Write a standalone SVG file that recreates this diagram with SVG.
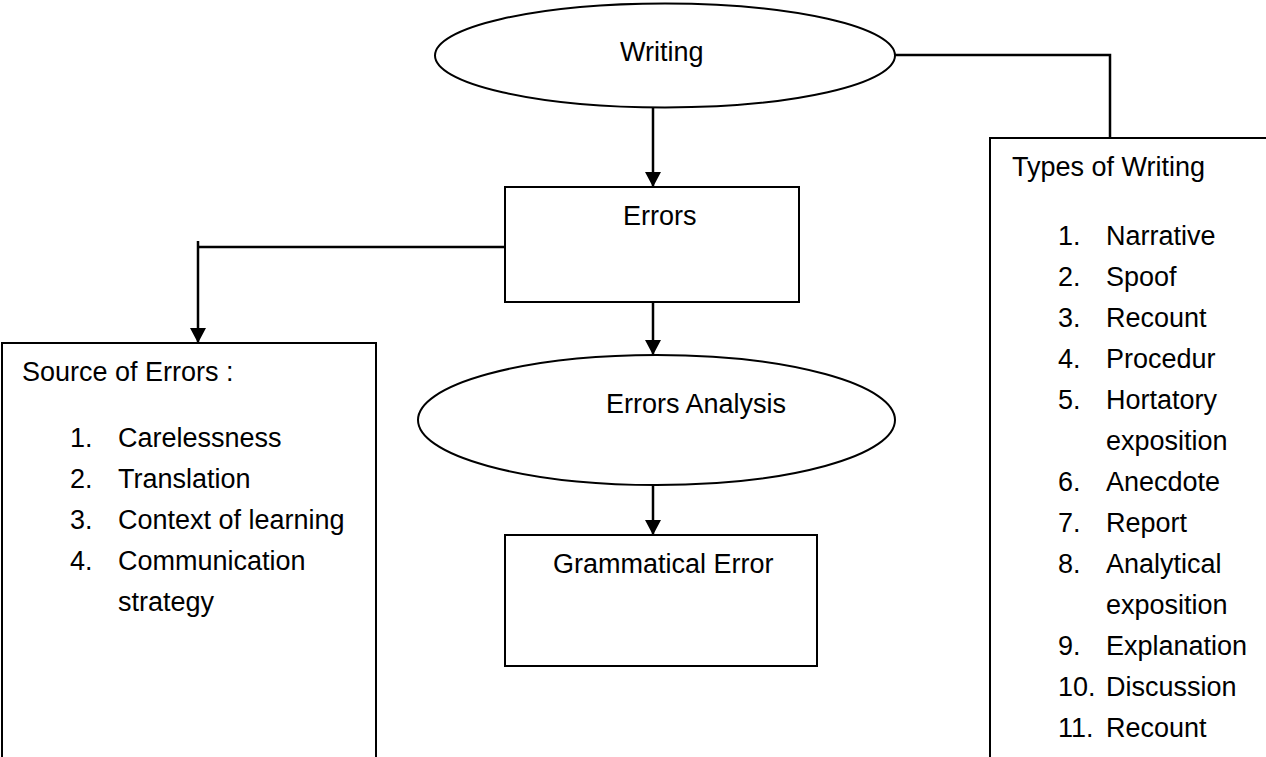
<svg xmlns="http://www.w3.org/2000/svg" width="1266" height="757" viewBox="0 0 1266 757">
<style>
.shape{fill:#fff;stroke:#000;stroke-width:2}
.conn{fill:none;stroke:#000;stroke-width:2.5}
text{font-family:"Liberation Sans",Arial,sans-serif;font-size:27px;fill:#000}
</style>
<defs>
<marker id="arr" markerUnits="userSpaceOnUse" markerWidth="15" markerHeight="16" refX="15" refY="8" orient="auto">
<path d="M0,0 L15,8 L0,16 z" fill="#000"/>
</marker>
</defs>
<rect width="1266" height="757" fill="#fff"/>
<g id="connectors">
<path class="conn" d="M653,108 V187" marker-end="url(#arr)"/>
<path class="conn" d="M653,302 V355" marker-end="url(#arr)"/>
<path class="conn" d="M653,485 V535" marker-end="url(#arr)"/>
<path class="conn" d="M505,247 H198"/>
<path class="conn" d="M198,241 V343" marker-end="url(#arr)"/>
<path class="conn" d="M895,55 H1110 V138"/>
</g>
<g id="writing">
<ellipse class="shape" cx="665" cy="55.5" rx="230" ry="52"/>
<text x="620" y="61">Writing</text>
</g>
<g id="errors">
<rect class="shape" x="505" y="187" width="294" height="115"/>
<text x="623" y="225">Errors</text>
</g>
<g id="errors-analysis">
<ellipse class="shape" cx="656.5" cy="420" rx="238.5" ry="65"/>
<text x="606" y="413">Errors Analysis</text>
</g>
<g id="grammatical-error">
<rect class="shape" x="505" y="535" width="312" height="131"/>
<text x="553" y="573">Grammatical Error</text>
</g>
<g id="source-of-errors">
<rect class="shape" x="2" y="343" width="374" height="430"/>
<text x="22" y="381">Source of Errors :</text>
<text x="70" y="447">1.</text><text x="118" y="447">Carelessness</text>
<text x="70" y="488">2.</text><text x="118" y="488">Translation</text>
<text x="70" y="529">3.</text><text x="118" y="529">Context of learning</text>
<text x="70" y="570">4.</text><text x="118" y="570">Communication</text>
<text x="118" y="611">strategy</text>
</g>
<g id="types-of-writing">
<rect class="shape" x="990" y="138" width="290" height="640"/>
<text x="1012" y="176">Types of Writing</text>
<text x="1058" y="245">1.</text><text x="1106" y="245">Narrative</text>
<text x="1058" y="286">2.</text><text x="1106" y="286">Spoof</text>
<text x="1058" y="327">3.</text><text x="1106" y="327">Recount</text>
<text x="1058" y="368">4.</text><text x="1106" y="368">Procedur</text>
<text x="1058" y="409">5.</text><text x="1106" y="409">Hortatory</text>
<text x="1106" y="450">exposition</text>
<text x="1058" y="491">6.</text><text x="1106" y="491">Anecdote</text>
<text x="1058" y="532">7.</text><text x="1106" y="532">Report</text>
<text x="1058" y="573">8.</text><text x="1106" y="573">Analytical</text>
<text x="1106" y="614">exposition</text>
<text x="1058" y="655">9.</text><text x="1106" y="655">Explanation</text>
<text x="1058" y="696">10.</text><text x="1106" y="696">Discussion</text>
<text x="1058" y="737">11.</text><text x="1106" y="737">Recount</text>
</g>
</svg>
